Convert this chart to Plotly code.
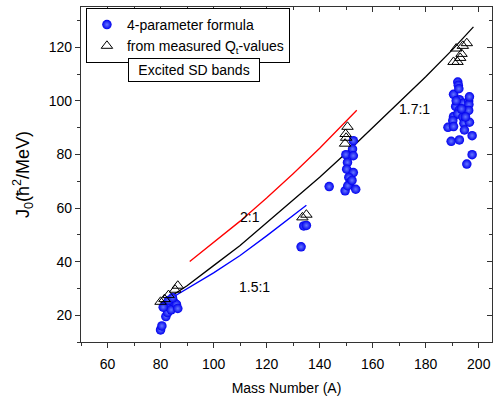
import plotly.graph_objects as go

# ---- data ----
sph_A = [80, 80.5, 82, 82.7, 82, 83.5, 84, 85, 86, 86.5, 83, 84.5, 81,
         133, 134, 135,
         143.6, 152.7, 152.4, 149.9, 152.7, 150.5, 150.2, 152.7, 151, 151.5, 149.6, 150.6, 153.6, 152.2,
         192.1, 192.3, 190.5, 192.7, 194.2, 196.2, 196.3, 191.3, 192.7, 194.6, 196.2, 190.5, 192.1, 194,
         190.2, 194.4, 196.5, 188.4, 190.5, 194.6, 189.6, 192.7, 197.5, 197.5, 195.5, 193.5, 195, 191.5,
         192.5, 196.5]
sph_J = [14.5, 16, 19.5, 21, 23.5, 23, 22, 25, 24, 22.5, 25.5, 26.5, 23,
         45.5, 53.3, 53.5,
         68, 85.1, 82, 79.9, 79.5, 77, 74.5, 73.2, 71.4, 69.5, 66.4, 68.3, 67, 70.3,
         107, 105.8, 102.4, 100.4, 99.1, 99.9, 98.6, 97.9, 96.6, 96.1, 96.4, 94.1, 95.1, 93.9,
         92.6, 91.6, 92, 90.1, 90.4, 89.1, 84.9, 85.4, 87, 79.9, 76.4, 97, 94, 100,
         104.5, 101.5]

tri_A = [80, 81.5, 83, 85.5, 86.5,
         133.5, 135,
         150.5, 149.8, 150, 149.6,
         195.5, 194, 191.5, 193.5, 193, 190.5, 192]
tri_J = [25, 26, 27.5, 29.5, 31,
         56.5, 57.5,
         90.3, 87.6, 86.2, 84,
         121.5, 120.5, 119.5, 117.5, 116, 114.5, 114.5]

red_A = [91, 100, 110, 120, 130, 140, 154]
red_J = [40, 47.0, 55.1, 63.7, 72.8, 82.3, 96.5]

blue_A = [80, 90, 100, 110, 120, 135]
blue_J = [24, 29.8, 35.8, 42.3, 49.6, 61]

black_A = [80, 90, 100, 110, 120, 130, 140, 150, 160, 170, 180, 190, 198]
black_J = [24.5, 31, 38.5, 46, 54.5, 63, 71.5, 80.5, 90, 99.5, 109, 119, 127.6]

x_ticks = [60, 80, 100, 120, 140, 160, 180, 200]
y_ticks = [20, 40, 60, 80, 100, 120]

FONT = "Liberation Sans, Arial, sans-serif"

fig = go.Figure()
fig.add_trace(go.Scatter(x=red_A, y=red_J, mode="lines", line=dict(color="#ff0000", width=1.3),
                         showlegend=False, hoverinfo="skip"))
fig.add_trace(go.Scatter(x=blue_A, y=blue_J, mode="lines", line=dict(color="#0000ff", width=1.3),
                         showlegend=False, hoverinfo="skip"))
fig.add_trace(go.Scatter(x=black_A, y=black_J, mode="lines", line=dict(color="#000000", width=1.3),
                         showlegend=False, hoverinfo="skip"))
fig.add_trace(go.Scatter(x=sph_A, y=sph_J, mode="markers", name="4-parameter formula",
                         marker=dict(size=9.5, color="#0000ee",
                                     gradient=dict(type="radial", color="#6677ff"),
                                     line=dict(width=0))))
fig.add_trace(go.Scatter(x=tri_A, y=tri_J, mode="markers", name="from measured Q<sub>t</sub>-values",
                         marker=dict(size=10, symbol="triangle-up-open", color="#000000",
                                     line=dict(width=1))))
# helper trace for the top/right axes
fig.add_trace(go.Scatter(x=[None], y=[None], xaxis="x2", yaxis="y2", showlegend=False,
                         hoverinfo="skip"))

common_ax = dict(showgrid=False, zeroline=False, tickcolor="#333333", ticklen=5, tickwidth=1.2,
                 automargin=False)

fig.update_layout(
    width=494, height=403,
    margin=dict(l=81, r=2, t=7, b=61),
    paper_bgcolor="white", plot_bgcolor="white",
    font=dict(family=FONT, size=14, color="#000000"),
    xaxis=dict(range=[50, 205], tickvals=x_ticks, ticks="outside", mirror=True, showline=True,
               linecolor="#333333", linewidth=1.2, ticklabelstandoff=4,
               minor=dict(dtick=10, tick0=50, ticks="outside", ticklen=3, tickcolor="#333333"),
               title=dict(text="Mass Number (A)", font=dict(size=14), standoff=12),
               tickfont=dict(size=14), **common_ax),
    yaxis=dict(range=[10, 135], tickvals=y_ticks, ticks="outside", mirror=True, showline=True,
               linecolor="#333333", linewidth=1.2,
               minor=dict(dtick=10, tick0=10, ticks="outside", ticklen=3, tickcolor="#333333"),
               title=dict(text="J<sub>0</sub>(ħ<sup>2</sup>/MeV)", font=dict(size=18), standoff=14),
               tickfont=dict(size=14), **common_ax),
    xaxis2=dict(range=[50, 205], overlaying="x", side="top", anchor="y", tickvals=x_ticks,
                ticks="inside", showticklabels=False, showline=False,
                minor=dict(dtick=10, tick0=50, ticks="inside", ticklen=3, tickcolor="#333333"),
                **common_ax),
    yaxis2=dict(range=[10, 135], overlaying="y", side="right", anchor="x", tickvals=y_ticks,
                ticks="inside", showticklabels=False, showline=False,
                minor=dict(dtick=10, tick0=10, ticks="inside", ticklen=3, tickcolor="#333333"),
                **common_ax),
    legend=dict(x=0.012, y=0.997, xanchor="left", yanchor="top", bgcolor="white",
                bordercolor="#000000", borderwidth=1, font=dict(size=14),
                tracegroupgap=0, itemwidth=30),
    annotations=[
        dict(text="Excited SD bands", x=0.275, y=0.812, xref="paper", yref="paper",
             xanchor="center", yanchor="middle", width=124,
             showarrow=False, bordercolor="#000000", borderwidth=1, borderpad=3,
             bgcolor="white", font=dict(size=14)),
        dict(text="2:1", x=113.7, y=56.6, showarrow=False, font=dict(size=14)),
        dict(text="1.5:1", x=115.6, y=30.4, showarrow=False, font=dict(size=14)),
        dict(text="1.7:1", x=175.6, y=97.1, showarrow=False, font=dict(size=14)),
    ],
)

fig.write_html("out.html", config={"displayModeBar": False},
               post_script="document.body.style.margin='0';")
